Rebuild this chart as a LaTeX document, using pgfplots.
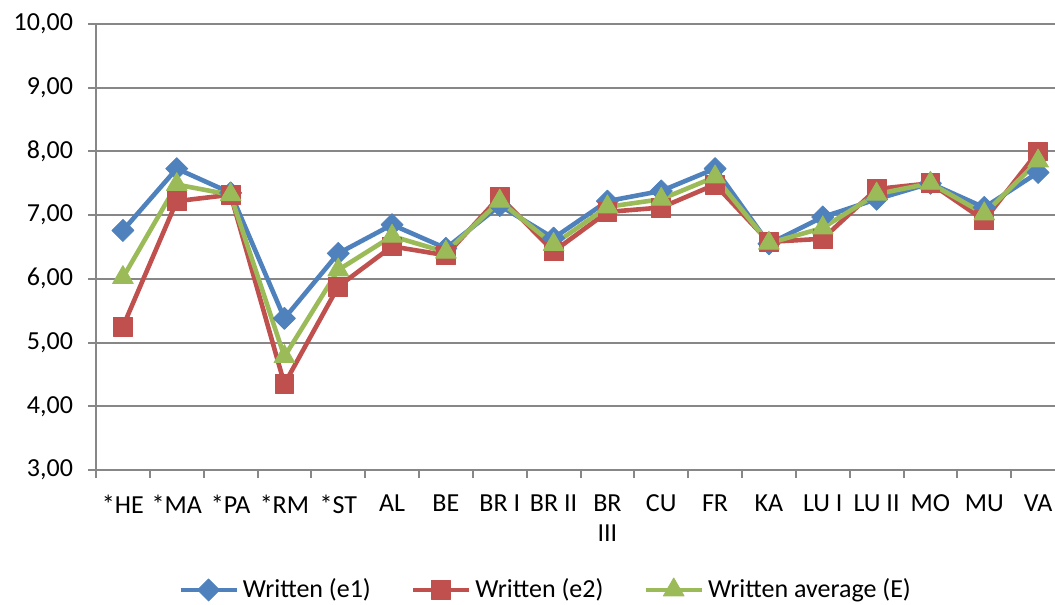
\documentclass[border=0pt]{standalone}
\usepackage{pgfplots}
\pgfplotsset{compat=1.18}
\usepackage{fontspec}
\setmainfont{Carlito}
\definecolor{cblue}{HTML}{4F81BD}
\definecolor{cred}{HTML}{C0504D}
\definecolor{cgreen}{HTML}{9BBB59}
\definecolor{gridgray}{HTML}{878787}
\begin{document}
\fontsize{13pt}{15.5pt}\selectfont
\begin{tikzpicture}
\useasboundingbox (-48pt,-67.5pt) rectangle (479.5pt,235pt);
\begin{axis}[
  at={(0,0)}, anchor=south west,
  scale only axis, width=484.5pt, height=223pt,
  xmin=-0.5, xmax=17.5, ymin=3, ymax=10,
  xtick={0,...,17},
  xticklabels={*HE,*MA,*PA,*RM,*ST,AL,BE,BR I,BR II,{BR\\III},CU,FR,KA,LU I,LU II,MO,MU,VA},
  minor xtick={-0.5,0.5,...,17.5},
  ytick={3,...,10},
  minor ytick={3,...,10},
  ymajorgrids,
  major grid style={gridgray, line width=1pt},
  axis x line*=bottom, axis y line*=left,
  axis line style={gridgray, line width=1pt, -},
  tick style={gridgray, line width=1pt},
  tick align=outside, major tick length=0pt, minor tick length=4pt,
  xticklabel style={align=center, font=\fontsize{13pt}{15pt}\selectfont, yshift=-8pt},
  yticklabel style={font=\fontsize{13pt}{15.5pt}\selectfont, xshift=-7pt},
  y tick label style={/pgf/number format/.cd, fixed, fixed zerofill, precision=2, use comma, assume math mode=true, /tikz/.cd},
  legend columns=3,
  legend style={at={(0.465,-0.269)}, anchor=center, draw=none, fill=none,
    font=\fontsize{13pt}{15.5pt}\selectfont,
    /tikz/every even column/.append style={column sep=18pt}},
  legend image code/.code={\draw[mark repeat=2,mark phase=2] plot coordinates {(0pt,0pt) (14pt,0pt) (28pt,0pt)};},
  every axis plot/.append style={line width=2.3pt, line join=round},
]
\addplot[color=cblue, mark=square*, mark size=3.9pt, mark options={rotate=45, line width=0.4pt, fill=cblue}] coordinates {
(0,6.76) (1,7.73) (2,7.35) (3,5.38) (4,6.40) (5,6.85) (6,6.48) (7,7.15) (8,6.64) (9,7.22) (10,7.38) (11,7.73) (12,6.55) (13,6.97) (14,7.25) (15,7.50) (16,7.12) (17,7.67)};
\addlegendentry{Written (e1)}
\addplot[color=cred, mark=square*, mark size=4.7pt, mark options={line width=0.4pt, fill=cred}] coordinates {
(0,5.25) (1,7.22) (2,7.32) (3,4.35) (4,5.88) (5,6.51) (6,6.37) (7,7.29) (8,6.43) (9,7.05) (10,7.12) (11,7.48) (12,6.58) (13,6.63) (14,7.41) (15,7.50) (16,6.92) (17,8.00)};
\addlegendentry{Written (e2)}
\addplot[color=cgreen, mark=triangle*, mark size=6pt, mark options={line width=0.4pt, fill=cgreen}] coordinates {
(0,6.02) (1,7.48) (2,7.32) (3,4.78) (4,6.14) (5,6.67) (6,6.42) (7,7.22) (8,6.54) (9,7.13) (10,7.25) (11,7.60) (12,6.56) (13,6.80) (14,7.33) (15,7.50) (16,7.02) (17,7.85)};
\addlegendentry{Written average (E)}
\end{axis}
\end{tikzpicture}
\end{document}
